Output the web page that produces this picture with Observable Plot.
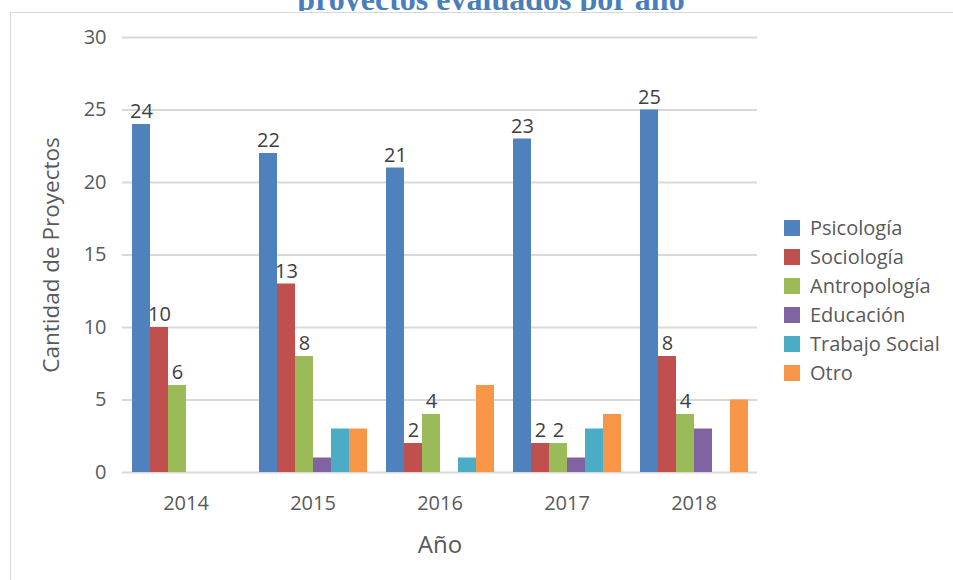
<!DOCTYPE html>
<html>
<head>
<meta charset="utf-8">
<script src="https://cdn.jsdelivr.net/npm/d3@7"></script>
<script src="https://cdn.jsdelivr.net/npm/@observablehq/plot@0.6"></script>
<style>
  body { margin: 0; background: #fff; font-family: "Open Sans", sans-serif; }
  #wrap { position: relative; width: 953px; height: 580px; overflow: hidden; background: #fff; }
  #titleclip { position: absolute; left: 0; top: 0; width: 982px; height: 11px; overflow: hidden; z-index: 0; }
  #title { position: absolute; left: 0; top: -17px; width: 982px; text-align: center;
           font-family: "Liberation Serif", serif; font-weight: bold; font-size: 32px; line-height: 32px; color: #4a7ebb; white-space: nowrap; }
  #panel { position: absolute; left: 10px; top: 12px; right: -2px; bottom: -2px; background: #fff;
           border-left: 1.5px solid #d9d9d9; border-top: 1.5px solid #d9d9d9; z-index: 1; }
  #chart { position: absolute; left: 0; top: 0; z-index: 2; }
  #legend { position: absolute; left: 784px; top: 213.5px; z-index: 3; }
  #chart g[aria-label="fx-axis label"] { font-size: 24px; }
  #chart g[aria-label="y-axis label"] { font-size: 22.5px; }
  #legend div { line-height: 28px; }
</style>
</head>
<body>
<div id="wrap">
  <div id="titleclip"><div id="title">proyectos evaluados por año</div></div>
  <div id="panel"></div>
  <div id="chart"></div>
  <div id="legend"></div>
</div>
<script>
const years = ["2014", "2015", "2016", "2017", "2018"];
const categories = ["Psicología", "Sociología", "Antropología", "Educación", "Trabajo Social", "Otro"];
const colors = ["#4f81bd", "#c0504d", "#9bbb59", "#8064a2", "#4bacc6", "#f79646"];
const psicologia    = [24, 22, 21, 23, 25];
const sociologia    = [10, 13, 2, 2, 8];
const antropologia  = [6, 8, 4, 2, 4];
const educacion     = [0, 1, 0, 1, 3];
const trabajoSocial = [0, 3, 1, 3, 0];
const otro          = [0, 3, 6, 4, 5];
const labeledCategories = ["Psicología", "Sociología", "Antropología"];
const yTicks = [0, 5, 10, 15, 20, 25, 30];

const series = [psicologia, sociologia, antropologia, educacion, trabajoSocial, otro];
const table = [];
years.forEach((year, i) => {
  categories.forEach((category, j) => {
    table.push({year, category, value: series[j][i]});
  });
});

const plot = Plot.plot({
  width: 953,
  height: 580,
  marginLeft: 120,
  marginRight: 195,
  marginTop: 37,
  marginBottom: 108,
  style: {background: "transparent", fontFamily: "'Open Sans', sans-serif", fontSize: "20px", color: "#595959", overflow: "visible"},
  fx: {domain: years, paddingInner: 0, paddingOuter: 0, axis: "bottom", tickSize: 0, tickPadding: 23, label: "Año", labelAnchor: "center", labelOffset: 80},
  x: {domain: categories, paddingInner: 0, paddingOuter: 0.49, axis: null},
  y: {domain: [0, 30], ticks: yTicks, tickSize: 0, tickPadding: 16, label: "Cantidad de Proyectos", labelArrow: false, labelAnchor: "center", labelOffset: 79},
  color: {domain: categories, range: colors},
  marks: [
    Plot.ruleY(yTicks, {stroke: "#d9d9d9", strokeWidth: 2}),
    Plot.barY(table.filter(d => d.value > 0), {fx: "year", x: "category", y: "value", fill: "category"}),
    Plot.text(table.filter(d => d.value > 0 && labeledCategories.includes(d.category)),
      {fx: "year", x: "category", y: "value", text: d => String(d.value), dy: -12.5, fill: "#404040", fontSize: 20})
  ]
});
document.getElementById("chart").appendChild(plot);

const legend = plot.legend("color", {columns: 1, swatchSize: 16, style: {fontFamily: "'Open Sans', sans-serif", fontSize: "20px", color: "#595959"}});
document.getElementById("legend").appendChild(legend);
</script>
</body>
</html>
